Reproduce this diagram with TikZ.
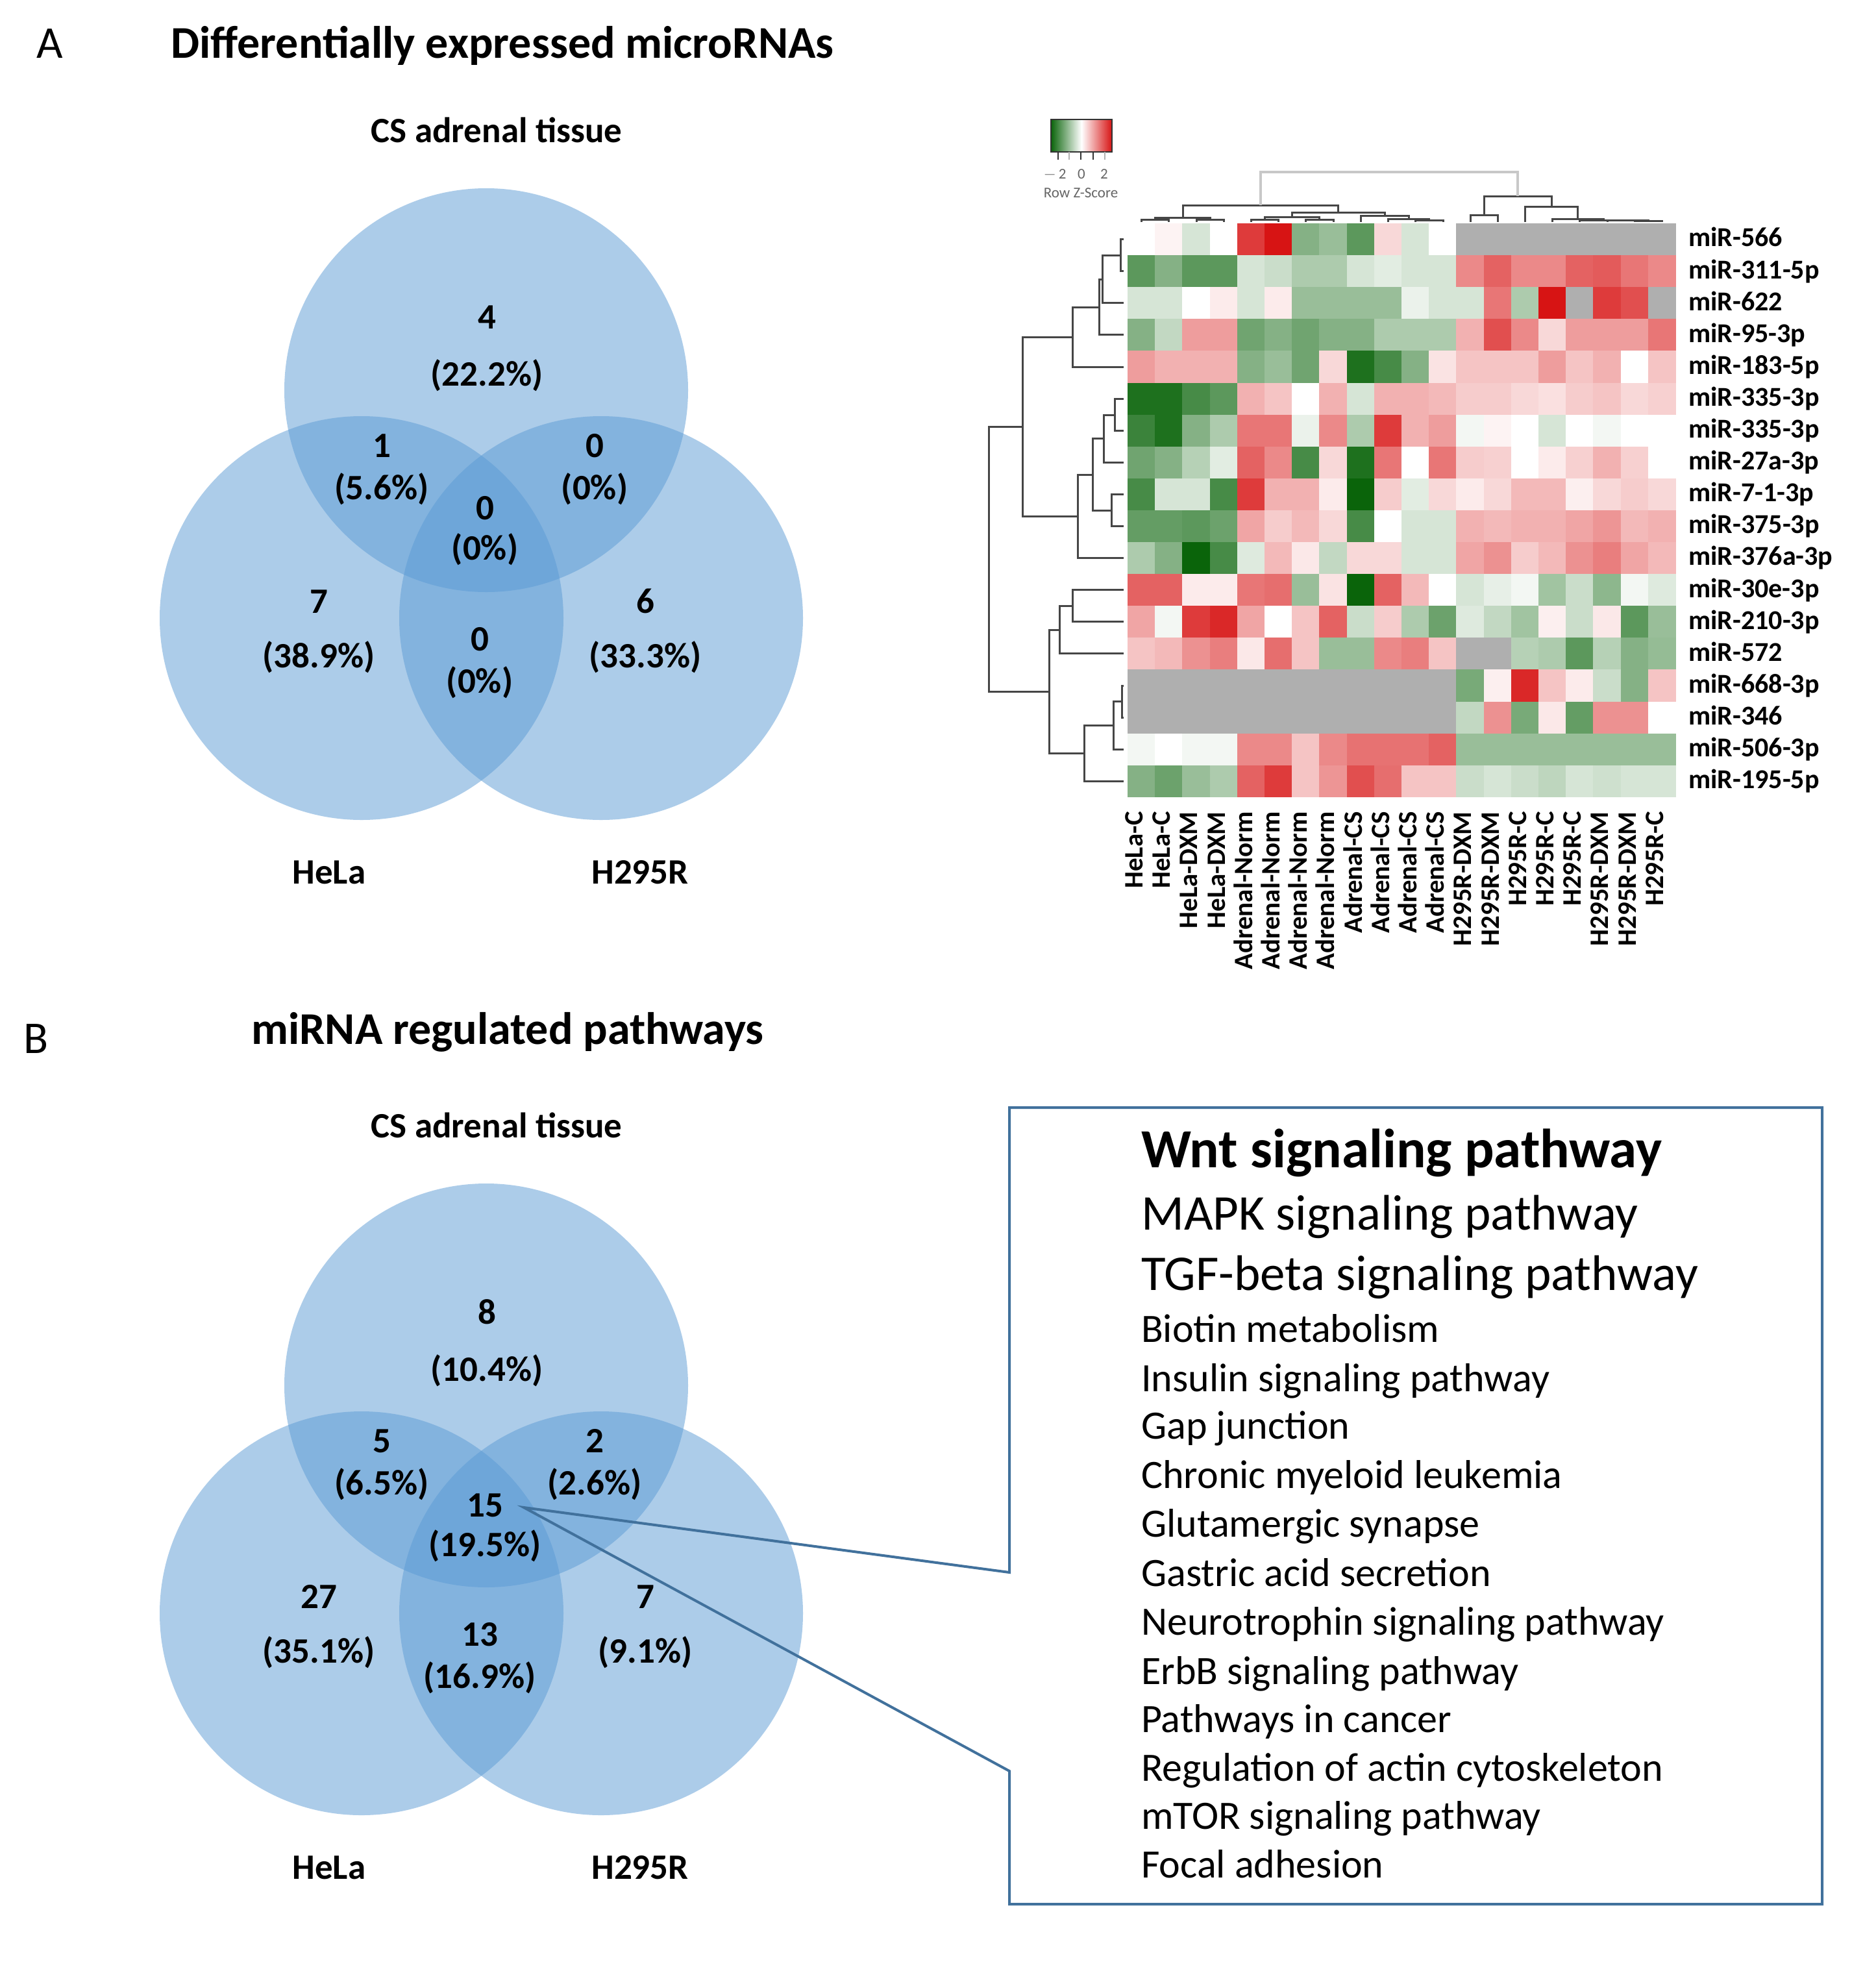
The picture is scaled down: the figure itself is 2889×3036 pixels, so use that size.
\documentclass[tikz,border=0pt]{standalone}
\usepackage{fontspec}
\setmainfont{Carlito}
\definecolor{vennblue}{RGB}{91,155,213}
\definecolor{hmgreen}{RGB}{10,100,10}
\definecolor{hmred}{RGB}{215,20,20}
\definecolor{hmgray}{RGB}{175,175,175}
\definecolor{boxblue}{RGB}{65,113,156}
\definecolor{dendc}{RGB}{70,70,70}
\definecolor{dendl}{RGB}{200,200,200}
\newcommand{\hmsetcolor}[1]{%
  \ifdim #1pt>50pt \colorlet{cc}{hmgray}%
  \else\ifdim #1pt<0pt \pgfmathsetmacro\hmpct{-#1*100/6}\colorlet{cc}{hmgreen!\hmpct!white}%
  \else \pgfmathsetmacro\hmpct{#1*100/6}\colorlet{cc}{hmred!\hmpct!white}\fi\fi}
\newcommand{\cbr}[5]{\draw[dend] (#1,#2) -- (#1,#5) -- (#3,#5) -- (#3,#4);}
\newcommand{\rbr}[5]{\draw[dend] (#2,#1) -- (#5,#1) -- (#5,#3) -- (#4,#3);}
\tikzset{
  vlab/.style={font=\bfseries\fontsize{55}{60}\selectfont, inner sep=0pt, anchor=mid, yshift=-12pt},
  ttl/.style={font=\bfseries\fontsize{70}{80}\selectfont, inner sep=0pt, anchor=mid, yshift=-17pt},
  panel/.style={font=\fontsize{70}{80}\selectfont, inner sep=0pt, anchor=mid, yshift=-17pt},
  rowlab/.style={font=\bfseries\fontsize{42}{46}\selectfont, inner sep=0pt, anchor=mid west, yshift=-9pt},
  collab/.style={font=\bfseries\fontsize{41}{45}\selectfont, inner sep=0pt, rotate=90, anchor=mid east},
  dend/.style={draw=dendc, line width=3pt},
  vennc/.style={fill=vennblue, fill opacity=0.5},
  pwbig/.style={font=\bfseries\fontsize{85}{95}\selectfont, inner sep=0pt, anchor=mid west, yshift=-25pt},
  pwmid/.style={font=\fontsize{77}{85}\selectfont, inner sep=0pt, anchor=mid west, yshift=-22pt},
  pw/.style={font=\fontsize{62}{70}\selectfont, inner sep=0pt, anchor=mid west, yshift=-19pt},
  keylab/.style={font=\fontsize{23}{25}\selectfont, text=black!60, inner sep=0pt, anchor=mid, yshift=-5pt},
}
\begin{document}
\begin{tikzpicture}[x=1pt, y=-1pt]
\useasboundingbox[fill=white] (0,0) rectangle (2889,3036);

% ---------------- Panel A ----------------
\node[panel] (lA) at (77,70) {A};
\node[ttl] (tA) at (774,70) {Differentially expressed microRNAs};
\fill[vennc] (749,601) circle[radius=311pt];
\fill[vennc] (557,952) circle[radius=311pt];
\fill[vennc] (926,952) circle[radius=311pt];
\node[vlab] (aCS) at (765,205) {CS adrenal tissue};
\node[vlab] (a1) at (750,492) {4};
\node[vlab] (a1p) at (750,580) {(22.2\%)};
\node[vlab] (a2) at (588,690) {1};
\node[vlab] (a2p) at (588,755) {(5.6\%)};
\node[vlab] (a3) at (916,690) {0};
\node[vlab] (a3p) at (916,755) {(0\%)};
\node[vlab] (a4) at (747,786) {0};
\node[vlab] (a4p) at (747,848) {(0\%)};
\node[vlab] (a5) at (491,930) {7};
\node[vlab] (a5p) at (491,1014) {(38.9\%)};
\node[vlab] (a6) at (994,930) {6};
\node[vlab] (a6p) at (994,1014) {(33.3\%)};
\node[vlab] (a7) at (739,988) {0};
\node[vlab] (a7p) at (739,1053) {(0\%)};
\node[vlab] (aHe) at (507,1347) {HeLa};
\node[vlab] (aH2) at (986,1347) {H295R};

% ---------------- Heatmap (18 rows x 20 columns, 99 = no data) ----------------
\foreach \v [count=\k from 0] in {
 0,0.3,-1,0,5,6,-3,-2.5,-4,1,-1,0,99,99,99,99,99,99,99,99,
 -4,-3,-4,-4,-1,-1.3,-2,-2,-1,-0.7,-1,-1,3,4,3,3,4,4.2,3.5,3,
 -1,-1,0,0.5,-1,0.5,-2.5,-2.5,-2.5,-2.5,-0.5,-1,-1,3.5,-2,6,99,5,4.5,99,
 -3,-1.5,2.5,2.5,-3.5,-3,-3.5,-3,-3,-2,-2,-2,2,4.5,3,1,2.5,2.5,2.5,3.5,
 2.5,2,2,2,-3,-2.5,-3.5,1,-5.5,-4.5,-3,0.7,1.5,1.5,1.5,2.5,1.5,2,0,1.5,
 -5.5,-5.5,-4.5,-4,2,1.5,0,2,-1,2,2,1.8,1.3,1.3,1,0.8,1.3,1.5,1,1.2,
 -4.8,-5.5,-3,-2,3.5,3.5,-0.5,3,-2,5,2,2.5,-0.3,0.3,0,-1,0,-0.3,0,0,
 -3.5,-3,-1.8,-0.7,4,3,-4.5,1,-5.5,3.5,0,3.5,1.3,1.2,0,0.5,1.2,2,1.2,0,
 -4.5,-1,-1,-4.5,5,2,2,0.5,-6,1.3,-0.7,1,0.5,1,1.8,1.8,0.4,1,1.3,1,
 -3.8,-3.8,-4,-3.6,2.3,1.3,1.8,1,-4.5,0,-1,-1,2,1.8,2,2,2.3,2.7,1.8,2,
 -2,-3,-6,-4.5,-0.8,1.8,0.6,-1.5,1,1,-1,-1,2.3,2.8,1.3,1.8,2.8,3.3,2.3,1.8,
 4,4,0.5,0.5,3.5,3.7,-2.5,0.7,-6,4,1.8,0,-1,-0.6,-0.3,-2.3,-1.3,-2.8,-0.3,-0.8,
 2.3,-0.3,5,5.5,2.3,0,1.5,4,-1.3,1.3,-2,-3.6,-0.8,-1.5,-2.3,0.4,-1.3,0.6,-4,-2.5,
 1.5,1.8,2.8,3.3,0.6,3.7,1.5,-2.5,-2.5,3,3.3,1.5,99,99,-1.8,-2,-4,-1.8,-3,-2.6,
 99,99,99,99,99,99,99,99,99,99,99,99,-3.3,0.4,5.5,1.5,0.5,-1.3,-3,1.5,
 99,99,99,99,99,99,99,99,99,99,99,99,-1.5,2.8,-3.3,0.6,-3.8,2.8,2.8,0,
 -0.3,0,-0.3,-0.3,3,3,1.5,3,3.6,3.6,3.6,4,-2.5,-2.5,-2.5,-2.5,-2.5,-2.5,-2.5,-2.5,
 -3,-3.6,-2.5,-2,4,5,1.5,2.7,4.5,3.7,1.5,1.5,-1.3,-1,-1.3,-1.6,-1,-1.2,-1,-1
}{
  \pgfmathtruncatemacro\hmi{\k/20}
  \pgfmathtruncatemacro\hmj{\k-20*\hmi}
  \hmsetcolor{\v}
  \fill[cc] ({1737+\hmj*42.2},{344+\hmi*49.1}) rectangle ++(42.7,49.6);
}

% row labels
\foreach \lab [count=\i from 0] in {miR-566,miR-311-5p,miR-622,miR-95-3p,miR-183-5p,miR-335-3p,miR-335-3p,miR-27a-3p,miR-7-1-3p,miR-375-3p,miR-376a-3p,miR-30e-3p,miR-210-3p,miR-572,miR-668-3p,miR-346,miR-506-3p,miR-195-5p}{
  \node[rowlab] (row\i) at (2601,{344+(\i+0.5)*49.1}) {\lab};
}
% column labels
\foreach \lab [count=\j from 0] in {HeLa-C,HeLa-C,HeLa-DXM,HeLa-DXM,Adrenal-Norm,Adrenal-Norm,Adrenal-Norm,Adrenal-Norm,Adrenal-CS,Adrenal-CS,Adrenal-CS,Adrenal-CS,H295R-DXM,H295R-DXM,H295R-C,H295R-C,H295R-C,H295R-DXM,H295R-DXM,H295R-C}{
  \node[collab] (col\j) at ({1737+(\j+0.5)*42.2},1250) {\lab};
}

% column dendrogram
\cbr{1758}{342}{1800}{342}{338}
\cbr{1843}{342}{1885}{342}{338}
\cbr{1779}{338}{1864}{338}{335}
\cbr{1927}{342}{1969}{342}{338}
\cbr{2011}{342}{2054}{342}{338}
\cbr{1948}{338}{2032}{338}{334}
\cbr{2180}{342}{2223}{342}{339}
\cbr{2138}{342}{2201}{339}{337}
\cbr{2096}{342}{2170}{337}{332}
\cbr{1990}{334}{2133}{332}{327}
\cbr{1822}{335}{2061}{327}{316}
\cbr{2265}{342}{2307}{342}{331}
\cbr{2518}{342}{2560}{342}{340}
\cbr{2476}{342}{2539}{340}{339.5}
\cbr{2433}{342}{2507}{339.5}{339}
\cbr{2391}{342}{2470}{339}{337}
\cbr{2349}{342}{2430}{337}{318}
\cbr{2286}{331}{2390}{318}{302}
\draw[dend, draw=dendl, line width=4pt] (1942,316) -- (1942,265) -- (2338,265) -- (2338,302);

% row dendrogram
\rbr{368.6}{1731}{417.7}{1731}{1726}
\rbr{393}{1726}{466.8}{1731}{1698}
\rbr{430}{1698}{515.9}{1731}{1693}
\rbr{473}{1693}{565}{1731}{1652}
\rbr{614.1}{1731}{663.2}{1731}{1717}
\rbr{639}{1717}{712.3}{1731}{1700}
\rbr{761.4}{1731}{810.5}{1731}{1712}
\rbr{675}{1700}{786}{1712}{1683}
\rbr{731}{1683}{859.6}{1731}{1660}
\rbr{519}{1652}{795}{1660}{1575}
\rbr{908.7}{1731}{957.8}{1731}{1652}
\rbr{933}{1652}{1006.9}{1731}{1632}
\rbr{1056}{1731}{1105.1}{1731}{1728}
\rbr{1080.5}{1728}{1154.2}{1731}{1715}
\rbr{1117}{1715}{1203.3}{1731}{1670}
\rbr{970}{1632}{1160}{1670}{1616}
\rbr{657}{1575}{1065}{1616}{1523}

% colour key
\shade[left color=hmgreen, right color=hmred, middle color=white] (1619,184) rectangle (1713,234);
\draw[black!80, line width=2pt] (1619,184) rectangle (1713,234);
\foreach \tx/\tc in {1630/black!80,1647/black!30,1665/black!80,1684/black!80,1702/black!30}{
  \draw[\tc, line width=2pt] (\tx,234) -- (\tx,246);
}
\node[keylab] (k1) at (1625,268) {$-$\,2};
\node[keylab] (k2) at (1666,268) {0};
\node[keylab] (k3) at (1701,268) {2};
\node[keylab] (k4) at (1665,297) {Row Z-Score};

% ---------------- Panel B ----------------
\node[panel] (lB) at (56,1603) {B};
\node[ttl] (tB) at (782,1589) {miRNA regulated pathways};
\fill[vennc] (749,2134) circle[radius=311pt];
\fill[vennc] (557,2485) circle[radius=311pt];
\fill[vennc] (926,2485) circle[radius=311pt];
\node[vlab] (bCS) at (765,1738) {CS adrenal tissue};
\node[vlab] (b1) at (750,2025) {8};
\node[vlab] (b1p) at (750,2113) {(10.4\%)};
\node[vlab] (b2) at (588,2223) {5};
\node[vlab] (b2p) at (588,2288) {(6.5\%)};
\node[vlab] (b3) at (916,2223) {2};
\node[vlab] (b3p) at (916,2288) {(2.6\%)};
\node[vlab] (b4) at (747,2322) {15};
\node[vlab] (b4p) at (747,2383) {(19.5\%)};
\node[vlab] (b5) at (491,2463) {27};
\node[vlab] (b5p) at (491,2547) {(35.1\%)};
\node[vlab] (b6) at (994,2463) {7};
\node[vlab] (b6p) at (994,2547) {(9.1\%)};
\node[vlab] (b7) at (739,2521) {13};
\node[vlab] (b7p) at (739,2586) {(16.9\%)};
\node[vlab] (bHe) at (507,2880) {HeLa};
\node[vlab] (bH2) at (986,2880) {H295R};

% callout box
\coordinate (tip) at (807,2322);
\coordinate (cA) at (1555,2422);
\coordinate (cB) at (1555,2728);
\coordinate (c1) at (1555,1706);
\coordinate (c2) at (2807,1706);
\coordinate (c3) at (2807,2933);
\coordinate (c4) at (1555,2933);
\draw[boxblue, line width=4pt, line join=miter] (cA) -- (c1) -- (c2) -- (c3) -- (c4) -- (cB) -- (tip) -- cycle;

\node[pwbig] (p1) at (1758,1771) {Wnt signaling pathway};
\node[pwmid] (p2) at (1758,1870) {MAPK signaling pathway};
\node[pwmid] (p3) at (1758,1963) {TGF-beta signaling pathway};
\node[pw] (p4) at (1758,2046) {Biotin metabolism};
\node[pw] (p5) at (1758,2122) {Insulin signaling pathway};
\node[pw] (p6) at (1758,2195) {Gap junction};
\node[pw] (p7) at (1758,2271) {Chronic myeloid leukemia};
\node[pw] (p8) at (1758,2346) {Glutamergic synapse};
\node[pw] (p9) at (1758,2422) {Gastric acid secretion};
\node[pw] (p10) at (1758,2497) {Neurotrophin signaling pathway};
\node[pw] (p11) at (1758,2573) {ErbB signaling pathway};
\node[pw] (p12) at (1758,2647) {Pathways in cancer};
\node[pw] (p13) at (1758,2722) {Regulation of actin cytoskeleton};
\node[pw] (p14) at (1758,2796) {mTOR signaling pathway};
\node[pw] (p15) at (1758,2871) {Focal adhesion};
\end{tikzpicture}
\end{document}
